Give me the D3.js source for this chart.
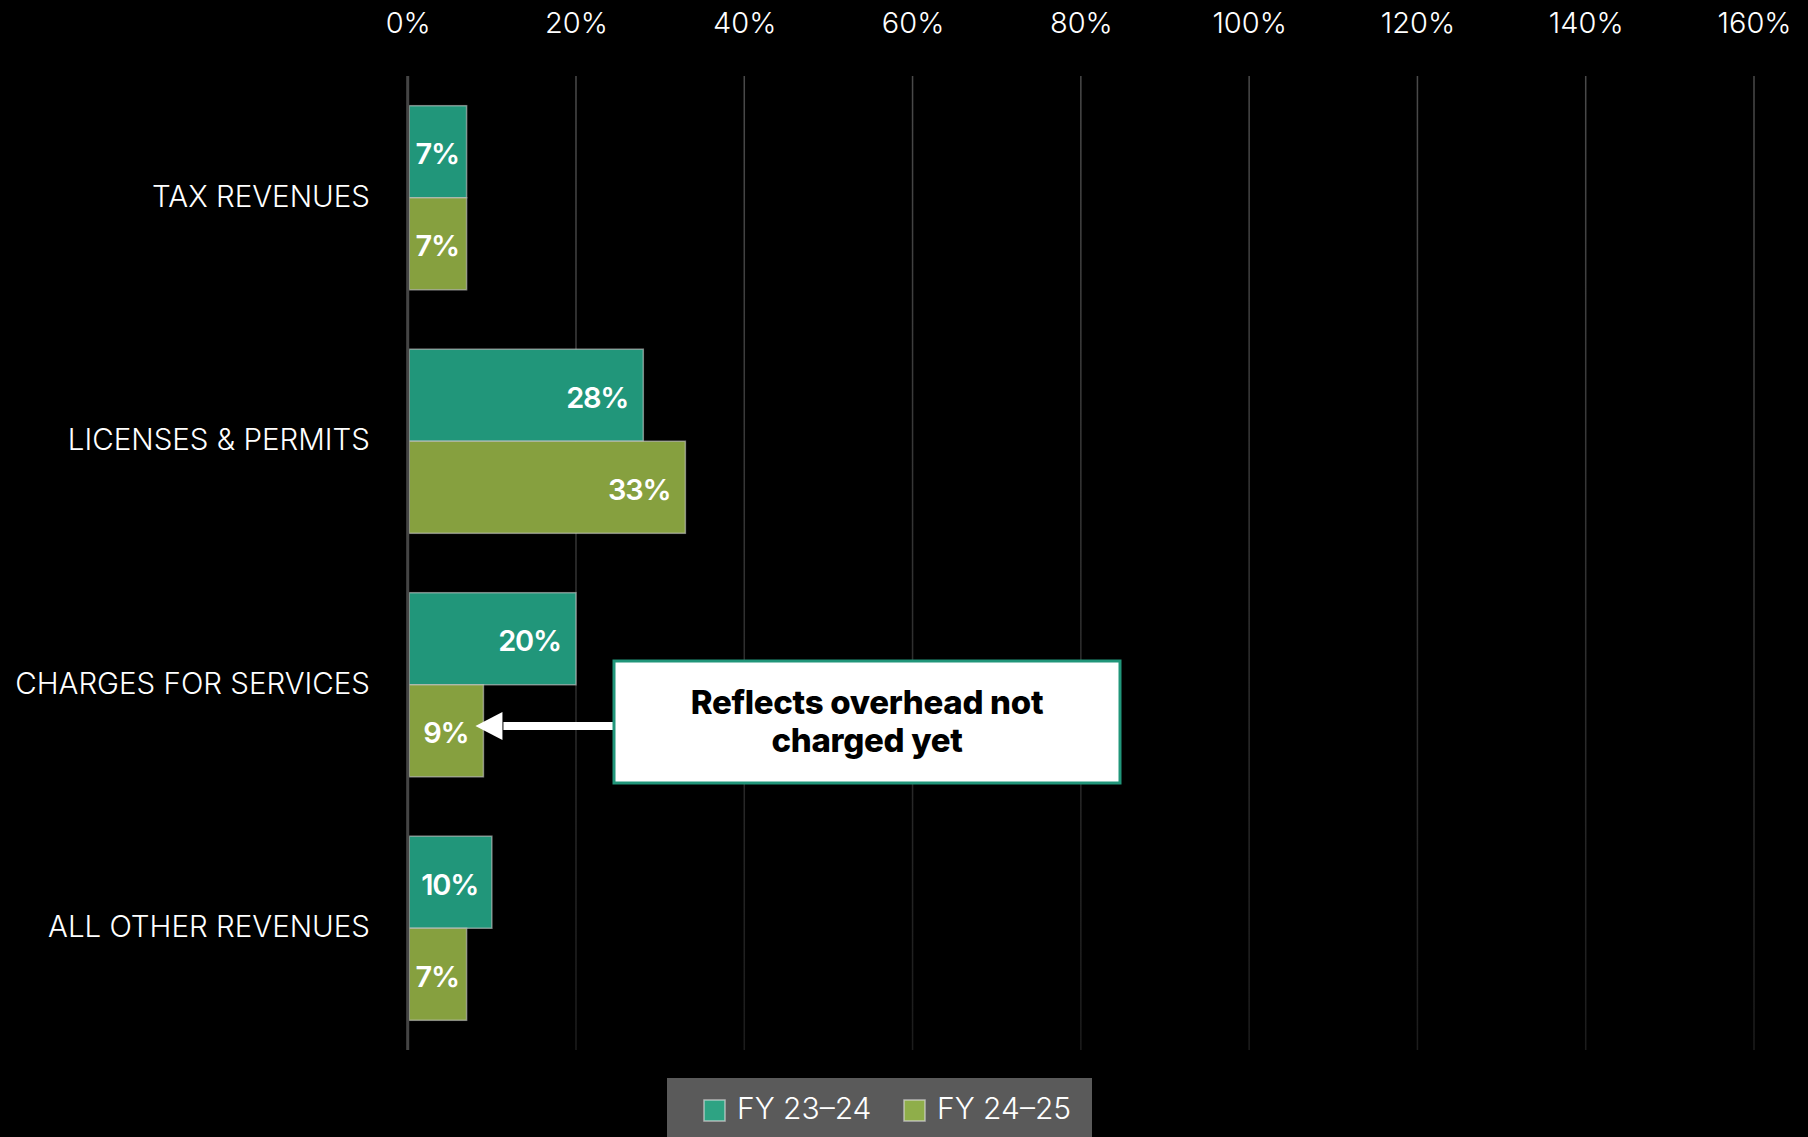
<!DOCTYPE html>
<html><head><meta charset="utf-8">
<script src="https://cdn.jsdelivr.net/npm/d3@7"></script>
<style>html,body{margin:0;padding:0;background:#000;overflow:hidden}</style>
</head><body><svg id="c" width="1808" height="1137"></svg>
<script>
const categories = ["TAX REVENUES", "LICENSES & PERMITS", "CHARGES FOR SERVICES", "ALL OTHER REVENUES"];
const seriesNames = ["FY 23-24", "FY 24-25"];
const fy2324 = [0.07, 0.28, 0.20, 0.10];
const fy2425 = [0.07, 0.33, 0.09, 0.07];
const tickValues = [0, 0.2, 0.4, 0.6, 0.8, 1.0, 1.2, 1.4, 1.6];
const annotationLines = ["Reflects overhead not", "charged yet"];
const annotationTarget = {category: "CHARGES FOR SERVICES", series: "FY 24-25"};

const colors = ["#21967a", "#86a03f"];
const legendColors = ["#2ea383", "#8fae4a"];
const FONT = "Inter, 'Noto Sans', sans-serif";

const svg = d3.select("#c");
svg.append("rect").attr("width",1808).attr("height",1137).attr("fill","#000");

const x = d3.scaleLinear().domain([0,1.6]).range([407.7,1754]);
const y = d3.scaleBand().domain(categories).range([76,1050]).paddingInner(0.244).paddingOuter(0.122);
const ys = d3.scaleBand().domain(seriesNames).range([0,y.bandwidth()]);

const defs = svg.append("defs");
const grad = defs.append("linearGradient").attr("id","gg").attr("gradientUnits","userSpaceOnUse")
  .attr("x1",0).attr("y1",76).attr("x2",0).attr("y2",1050);
grad.append("stop").attr("offset",0).attr("stop-color","#4a4a4a");
grad.append("stop").attr("offset",1).attr("stop-color","#1c1c1c");

// gridlines
svg.append("g").selectAll("line").data(tickValues.slice(1)).join("line")
  .attr("x1",d=>x(d)).attr("x2",d=>x(d)).attr("y1",76).attr("y2",1050)
  .attr("stroke","url(#gg)").attr("stroke-width",1.5);

// top axis
const ax = svg.append("g").attr("transform","translate(0,33)")
  .call(d3.axisTop(x).tickValues(tickValues).tickFormat(d3.format(".0%")).tickSize(0).tickPadding(0));
ax.select(".domain").remove();
ax.selectAll("text").attr("fill","#fff").attr("font-size",29).attr("font-family",FONT).attr("font-weight",300)
  .attr("dy","0");

// bars
const data = [];
categories.forEach((c,i)=>{
  data.push({c, s:seriesNames[0], v:fy2324[i], col:colors[0]});
  data.push({c, s:seriesNames[1], v:fy2425[i], col:colors[1]});
});
const bars = svg.append("g");
bars.selectAll("rect").data(data).join("rect")
  .attr("x",x(0)+1.5).attr("y",d=>y(d.c)+ys(d.s))
  .attr("width",d=>x(d.v)-x(0)-1.5).attr("height",ys.bandwidth())
  .attr("fill",d=>d.col).attr("stroke","#c8c8c8").attr("stroke-opacity",0.6).attr("stroke-width",1.5);

const fmt = d3.format(".0%");
bars.selectAll("text").data(data).join("text")
  .attr("font-family",FONT).attr("font-size",29).attr("font-weight",600).attr("fill","#fff")
  .attr("letter-spacing",-1.2)
  .attr("text-anchor","end").attr("dominant-baseline","central")
  .attr("y",d=>y(d.c)+ys(d.s)+ys.bandwidth()/2+2)
  .text(d=>fmt(d.v))
  .attr("x",function(d){
    const w = this.getComputedTextLength();
    const bw = x(d.v)-x(0);
    const inset = Math.min(15, Math.max(4,(bw-w)/2));
    return x(d.v)-inset;
  });

// zero axis line
svg.append("line").attr("x1",x(0)).attr("x2",x(0)).attr("y1",76).attr("y2",1050)
  .attr("stroke","#454545").attr("stroke-width",3);

// category labels
svg.append("g").selectAll("text").data(categories).join("text")
  .attr("x",370).attr("y",d=>y(d)+y.bandwidth()/2-2).attr("dominant-baseline","central")
  .attr("text-anchor","end").attr("fill","#fff").attr("font-family",FONT).attr("font-size",29.5)
  .attr("font-weight",300).text(d=>d);

// annotation
const ci = categories.indexOf(annotationTarget.category);
const tx = x(fy2425[ci]);
const ay = 726;
const box = {x0:614, x1:1120, y0:661, y1:783};
svg.append("line").attr("x1",tx+20).attr("x2",box.x0).attr("y1",ay).attr("y2",ay)
  .attr("stroke","#fff").attr("stroke-width",8);
svg.append("path").attr("d",`M${tx-8},${ay} L${tx+19},${ay-14} L${tx+19},${ay+14} Z`).attr("fill","#fff");
svg.append("rect").attr("x",box.x0).attr("y",box.y0).attr("width",box.x1-box.x0).attr("height",box.y1-box.y0)
  .attr("fill","#fff").attr("stroke","#21967a").attr("stroke-width",3);
svg.append("g").selectAll("text").data(annotationLines).join("text")
  .attr("x",(box.x0+box.x1)/2).attr("y",(d,i)=>714+i*38).attr("text-anchor","middle")
  .attr("font-family",FONT).attr("font-weight",800).attr("font-size",33).attr("letter-spacing",-0.3)
  .attr("fill","#000").text(d=>d);

// legend
const lg = svg.append("g");
lg.append("rect").attr("x",667).attr("y",1078).attr("width",425).attr("height",70).attr("fill","#5a5a5a");
const lx = [703, 903];
seriesNames.forEach((s,i)=>{
  lg.append("rect").attr("x",lx[i]+1).attr("y",1100).attr("width",21).attr("height",21)
    .attr("fill",legendColors[i]).attr("stroke","#d8d8d8").attr("stroke-opacity",0.7).attr("stroke-width",1.5);
  lg.append("text").attr("x",lx[i]+34).attr("y",1119).attr("fill","#fff").attr("font-family",FONT)
    .attr("font-size",30).attr("font-weight",300).text(s.replace("-","\u2013"));
});
</script></body></html>
